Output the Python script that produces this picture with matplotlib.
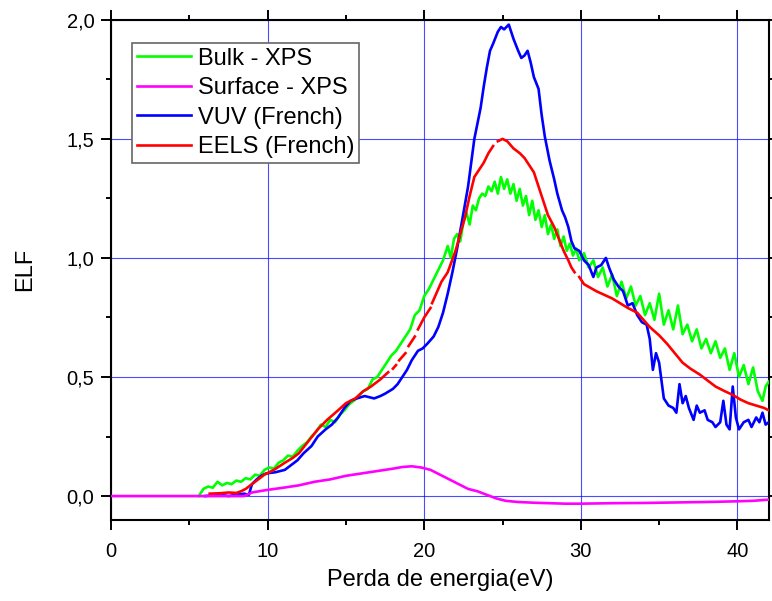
import numpy as np
import matplotlib
matplotlib.use("Agg")
import matplotlib.pyplot as plt
from matplotlib.ticker import MultipleLocator, FuncFormatter

plt.rcParams['font.family'] = ['Liberation Sans', 'DejaVu Sans']

nan = np.nan

# Bulk - XPS (green)
bulk_x = [5.6, 5.9, 6.2, 6.5, 6.8, 7.1, 7.4, 7.7, 8.0, 8.3, 8.6, 8.9, 9.2, 9.5, 9.8,
          10.1, 10.4, 10.7, 11.0, 11.3, 11.6, 11.9, 12.2, 12.5, 12.8, 13.1, 13.4, 13.7,
          14.0, 14.3, 14.6, 14.9, 15.2, 15.5, 15.8, 16.1, 16.4, 16.7, 17.0, 17.3, 17.6,
          17.9, 18.2, 18.5, 18.8, 19.1, 19.4, 19.7, 20.0, 20.3, 20.6, 20.9, 21.2, 21.5,
          21.7, 21.9, 22.1, 22.3, 22.5, 22.7, 22.9, 23.1, 23.3, 23.5, 23.7, 23.9, 24.1,
          24.3, 24.5, 24.7, 24.9, 25.1, 25.3, 25.5, 25.7, 25.9, 26.1, 26.3, 26.5, 26.7,
          26.9, 27.1, 27.3, 27.5, 27.7, 27.9, 28.1, 28.3, 28.5, 28.7, 28.9, 29.1, 29.3,
          29.5, 29.7, 29.9, 30.2, 30.5, 30.8, 31.1, 31.4, 31.7, 32.0, 32.3, 32.6, 32.9,
          33.2, 33.5, 33.8, 34.1, 34.4, 34.7, 35.0, 35.3, 35.6, 35.9, 36.2, 36.5, 36.8,
          37.1, 37.4, 37.7, 38.0, 38.3, 38.6, 38.9, 39.2, 39.5, 39.8, 40.1, 40.4, 40.7,
          41.0, 41.3, 41.6, 41.8, 42.0]
bulk_y = [0.0, 0.03, 0.04, 0.035, 0.06, 0.045, 0.055, 0.05, 0.065, 0.06, 0.075, 0.07,
          0.09, 0.085, 0.11, 0.12, 0.115, 0.14, 0.15, 0.17, 0.165, 0.19, 0.21, 0.225,
          0.25, 0.27, 0.30, 0.29, 0.32, 0.31, 0.34, 0.36, 0.385, 0.40, 0.42, 0.44, 0.45,
          0.49, 0.50, 0.53, 0.56, 0.59, 0.61, 0.64, 0.67, 0.70, 0.76, 0.78, 0.84, 0.87,
          0.91, 0.95, 0.99, 1.05, 1.00, 1.08, 1.10, 1.07, 1.15, 1.19, 1.14, 1.22, 1.20,
          1.25, 1.27, 1.26, 1.30, 1.28, 1.32, 1.27, 1.34, 1.29, 1.33, 1.27, 1.31, 1.24,
          1.29, 1.22, 1.26, 1.18, 1.24, 1.16, 1.20, 1.13, 1.18, 1.10, 1.14, 1.08, 1.12,
          1.05, 1.09, 1.03, 1.06, 1.01, 1.04, 0.99, 1.02, 0.96, 0.99, 0.92, 0.96, 0.88,
          0.93, 0.84, 0.90, 0.83, 0.88, 0.80, 0.84, 0.76, 0.81, 0.74, 0.85, 0.72, 0.78,
          0.70, 0.80, 0.68, 0.72, 0.65, 0.70, 0.62, 0.66, 0.60, 0.65, 0.58, 0.62, 0.53,
          0.60, 0.50, 0.55, 0.47, 0.54, 0.44, 0.40, 0.46, 0.48]

# Surface - XPS (magenta)
surf_x = [0.0, 8.5, 9.0, 9.9, 11.0, 12.0, 13.0, 14.0, 15.0, 16.0, 17.0, 18.0, 18.6,
          19.2, 19.8, 20.4, 21.0, 21.6, 22.2, 22.8, 23.4, 24.0, 24.6, 25.2, 26.0, 27.0,
          28.0, 29.0, 30.0, 32.0, 34.0, 36.0, 38.0, 40.0, 41.0, 42.0]
surf_y = [0.0, 0.0, 0.015, 0.025, 0.035, 0.045, 0.06, 0.07, 0.085, 0.095, 0.105, 0.115,
          0.122, 0.125, 0.12, 0.11, 0.09, 0.07, 0.05, 0.03, 0.02, 0.005, -0.01, -0.02,
          -0.025, -0.028, -0.03, -0.032, -0.032, -0.03, -0.029, -0.027, -0.025, -0.022,
          -0.02, -0.015]

# VUV (French) (blue)
vuv_x = [6.0, 7.0, 7.5, 8.0, 8.5, 8.8, 9.0, 9.3, 9.6, 9.9, 10.5, 11.1, 11.5, 11.9, 12.3,
         12.8, 13.2, 13.7, 14.1, 14.5, 14.9, 15.3, 15.7, 16.2, 16.8, 17.2, 17.5, 18.0,
         18.3, 18.6, 18.9, 19.2, 19.6, 19.9, 20.2, 20.6, 20.9, 21.2, 21.5, 21.8, 22.1,
         22.4, 22.8, 23.2, 23.6, 23.8, 24.0, 24.2, 24.4, 24.7, 24.9, 25.1, 25.4, 25.7,
         26.0, 26.2, 26.4, 26.6, 26.8, 27.0, 27.3, 27.5, 27.7, 28.0, 28.3, 28.5, 28.8,
         29.0, 29.2, 29.4, 29.6, 29.9, 30.2, 30.5, 30.8, 31.0, 31.3, 31.6, 31.8, 32.1,
         32.4, 32.7, 33.0, 33.3, 33.6, 33.9, 34.2, 34.4, 34.6, 34.8, 35.0, 35.3, 35.6,
         35.9, 36.1, 36.3, 36.5, 36.7, 36.9, 37.2, 37.4, 37.6, 37.9, 38.1, 38.4, 38.6,
         38.9, 39.1, 39.3, 39.5, 39.7, 39.9, 40.1, 40.4, 40.7, 40.9, 41.2, 41.4, 41.6,
         41.8, 42.0]
vuv_y = [0.0, 0.005, 0.0, 0.005, 0.01, 0.005, 0.05, 0.07, 0.085, 0.095, 0.10, 0.11,
         0.13, 0.15, 0.18, 0.21, 0.25, 0.28, 0.30, 0.33, 0.37, 0.40, 0.41, 0.42, 0.41,
         0.42, 0.43, 0.45, 0.47, 0.50, 0.53, 0.57, 0.61, 0.62, 0.64, 0.67, 0.71, 0.77,
         0.85, 0.94, 1.04, 1.15, 1.30, 1.50, 1.63, 1.72, 1.80, 1.87, 1.90, 1.95, 1.97,
         1.96, 1.98, 1.92, 1.87, 1.84, 1.85, 1.87, 1.82, 1.76, 1.71, 1.60, 1.51, 1.41,
         1.33, 1.27, 1.20, 1.17, 1.13, 1.07, 1.04, 1.03, 0.99, 0.97, 0.92, 0.96, 0.97,
         1.00, 0.96, 0.91, 0.88, 0.86, 0.80, 0.81, 0.76, 0.73, 0.72, 0.66, 0.53, 0.60,
         0.56, 0.41, 0.38, 0.37, 0.35, 0.47, 0.39, 0.42, 0.37, 0.32, 0.38, 0.35, 0.36,
         0.32, 0.31, 0.29, 0.31, 0.40, 0.30, 0.28, 0.46, 0.33, 0.28, 0.31, 0.32, 0.29,
         0.33, 0.31, 0.35, 0.30, 0.31]

# EELS (French) (red), nan = break in the curve
eels_x = [6.3, 7.0, 7.5, 8.0, 8.3, 8.6, 9.0, 9.4, 9.8, 10.4, 11.1, 11.6, 12.0, 12.6,
          13.2, 13.8, 14.5, 15.0, 15.6, 16.1, 16.6, 17.2, 17.7, nan, 18.0, 18.2, nan,
          18.4, 18.8, nan, 19.0, 19.4, nan, 19.6, 20.0, 20.4, nan, 20.5, 21.1, 21.5,
          22.0, 22.3, 22.6, 22.9, 23.2, 23.5, 23.8, 24.1, 24.4, nan, 24.7, 25.0, 25.3,
          25.7, 26.1, 26.4, 26.8, 27.0, 27.3, 27.6, 27.9, 28.3, 28.6, 28.9, 29.2, 29.4,
          29.6, nan, 29.9, 30.2, 30.6, 31.0, 31.5, 32.0, 32.5, 33.0, 33.6, 34.0, 34.4,
          35.0, 35.5, 36.0, 36.5, 37.0, 37.6, 38.1, 38.6, 39.2, 39.7, 40.2, 40.7, 41.2,
          41.7, 42.0]
eels_y = [0.01, 0.012, 0.015, 0.013, 0.02, 0.03, 0.05, 0.07, 0.09, 0.11, 0.14, 0.16,
          0.18, 0.23, 0.28, 0.32, 0.36, 0.39, 0.41, 0.44, 0.46, 0.49, 0.52, nan, 0.535,
          0.55, nan, 0.57, 0.60, nan, 0.63, 0.67, nan, 0.70, 0.75, 0.79, nan, 0.81, 0.90,
          0.94, 1.03, 1.10, 1.17, 1.26, 1.34, 1.37, 1.40, 1.44, 1.47, nan, 1.49, 1.50,
          1.49, 1.46, 1.44, 1.42, 1.38, 1.36, 1.30, 1.24, 1.18, 1.13, 1.08, 1.03, 0.99,
          0.96, 0.94, nan, 0.92, 0.89, 0.875, 0.86, 0.845, 0.83, 0.81, 0.79, 0.77, 0.74,
          0.71, 0.675, 0.64, 0.60, 0.56, 0.535, 0.51, 0.485, 0.46, 0.44, 0.425, 0.405,
          0.39, 0.38, 0.37, 0.36]

x_ticks = [0, 10, 20, 30, 40]
y_ticks = [0.0, 0.5, 1.0, 1.5, 2.0]

fig = plt.figure(figsize=(7.72, 6.01), dpi=100)
ax = fig.add_axes([0.1438, 0.135, 0.852, 0.832])

lw = 1.9
h_bulk, = ax.plot(bulk_x, bulk_y, color='#00ff00', lw=lw, label='Bulk - XPS', zorder=3)
h_vuv, = ax.plot(vuv_x, vuv_y, color='#0000ff', lw=lw, label='VUV (French)', zorder=4)
h_eels, = ax.plot(eels_x, eels_y, color='#ff0000', lw=lw, label='EELS (French)', zorder=5)
h_surf, = ax.plot(surf_x, surf_y, color='#ff00ff', lw=lw, label='Surface - XPS', zorder=6)

ax.set_xlim(0, 42)
ax.set_ylim(-0.1, 2.0)
ax.set_xticks(x_ticks)
ax.set_yticks(y_ticks)
ax.xaxis.set_minor_locator(MultipleLocator(5))
ax.yaxis.set_minor_locator(MultipleLocator(0.25))
ax.yaxis.set_major_formatter(FuncFormatter(lambda v, p: f"{v:.1f}".replace('.', ',')))

for s in ax.spines.values():
    s.set_linewidth(1.5)

ax.tick_params(which='both', direction='out', labelsize=14.5, width=1.4)
ax.tick_params(which='major', length=7)
ax.tick_params(which='minor', length=3.5)
ax.tick_params(which='both', top=True, right=True)
ax.tick_params(axis='x', pad=9)
ax.tick_params(axis='y', pad=5)

ax.grid(True, which='major', color='#0000ff', lw=0.8, alpha=0.7)
ax.set_axisbelow(True)

ax.set_xlabel('Perda de energia(eV)', fontsize=17, labelpad=6)
ax.set_ylabel('ELF', fontsize=17, labelpad=22)

leg = ax.legend(handles=[h_bulk, h_surf, h_vuv, h_eels], loc='upper left',
                bbox_to_anchor=(0.032, 0.954), fontsize=17, fancybox=False,
                framealpha=1, edgecolor='#666666', handlelength=2.3,
                handletextpad=0.3, labelspacing=0.32, borderpad=0.2,
                borderaxespad=0)
leg.get_frame().set_linewidth(1.2)

fig.savefig('out.png', dpi=100)
